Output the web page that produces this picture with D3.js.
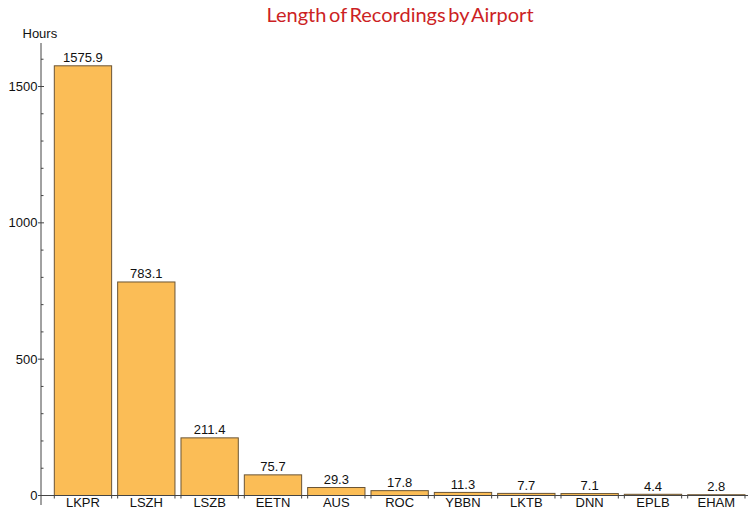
<!DOCTYPE html>
<html>
<head>
<meta charset="utf-8">
<script src="https://cdn.jsdelivr.net/npm/d3@7"></script>
<style>
  html, body { margin: 0; padding: 0; background: #fff; }
  svg { display: block; }
</style>
</head>
<body>
<svg id="chart" width="753" height="514"></svg>
<script>
const categories = ["LKPR", "LSZH", "LSZB", "EETN", "AUS", "ROC", "YBBN", "LKTB", "DNN", "EPLB", "EHAM"];
const hours = [1575.9, 783.1, 211.4, 75.7, 29.3, 17.8, 11.3, 7.7, 7.1, 4.4, 2.8];
const valueLabels = ["1575.9", "783.1", "211.4", "75.7", "29.3", "17.8", "11.3", "7.7", "7.1", "4.4", "2.8"];
const majorTicks = [0, 500, 1000, 1500];
const minorTicks = d3.range(0, 1700, 100).filter(v => v % 500 !== 0);
const titleText = "Length of Recordings by Airport";
const yLabel = "Hours";

const svg = d3.select("#chart");
const axisColor = "#444";
const font = "'Liberation Sans', Arial, Helvetica, sans-serif";

const x = d3.scaleBand().domain(categories).range([51.3, 748]).paddingInner(0.095).paddingOuter(0.0475);
const y = d3.scaleLinear().domain([0, 1500]).range([495.5, 86.5]);

const axisX = 41;

// Bars
svg.append("g").selectAll("rect").data(categories).join("rect")
  .attr("x", d => x(d))
  .attr("y", (d, i) => y(hours[i]))
  .attr("width", x.bandwidth())
  .attr("height", (d, i) => y(0) - y(hours[i]))
  .attr("fill", "#FBBD56")
  .attr("stroke", "#6b5535")
  .attr("stroke-width", 1);

// Value labels
svg.append("g").selectAll("text").data(categories).join("text")
  .attr("x", d => x(d) + x.bandwidth() / 2)
  .attr("y", (d, i) => y(hours[i]) - 3.5)
  .attr("text-anchor", "middle")
  .attr("font-family", font)
  .attr("font-size", 13)
  .attr("fill", "#111")
  .text((d, i) => valueLabels[i]);

// Y axis line
svg.append("line")
  .attr("x1", axisX).attr("x2", axisX)
  .attr("y1", 43).attr("y2", 505)
  .attr("stroke", axisColor).attr("stroke-width", 1);

// X axis line
svg.append("line")
  .attr("x1", axisX).attr("x2", 748)
  .attr("y1", y(0)).attr("y2", y(0))
  .attr("stroke", axisColor).attr("stroke-width", 1);

// Major y ticks + labels
const gy = svg.append("g");
gy.selectAll("line.major").data(majorTicks).join("line")
  .attr("class", "major")
  .attr("x1", axisX - 3).attr("x2", axisX + 3)
  .attr("y1", d => y(d)).attr("y2", d => y(d))
  .attr("stroke", axisColor).attr("stroke-width", 1);
gy.selectAll("line.minor").data(minorTicks).join("line")
  .attr("class", "minor")
  .attr("x1", axisX).attr("x2", axisX + 2.5)
  .attr("y1", d => y(d)).attr("y2", d => y(d))
  .attr("stroke", axisColor).attr("stroke-width", 1);
gy.selectAll("text").data(majorTicks).join("text")
  .attr("x", axisX - 3.5)
  .attr("y", d => y(d) + 4.5)
  .attr("text-anchor", "end")
  .attr("font-family", font)
  .attr("font-size", 13)
  .attr("fill", "#111")
  .text(d => d);

// X ticks at bar edges
const edges = [];
categories.forEach(c => { edges.push(x(c)); edges.push(x(c) + x.bandwidth()); });
svg.append("g").selectAll("line").data(edges).join("line")
  .attr("x1", d => d).attr("x2", d => d)
  .attr("y1", y(0)).attr("y2", y(0) + 3)
  .attr("stroke", axisColor).attr("stroke-width", 1);

// Category labels
svg.append("g").selectAll("text").data(categories).join("text")
  .attr("x", d => x(d) + x.bandwidth() / 2)
  .attr("y", 507)
  .attr("text-anchor", "middle")
  .attr("font-family", font)
  .attr("font-size", 13)
  .attr("fill", "#111")
  .text(d => d);

// Y label
svg.append("text")
  .attr("x", 22.5).attr("y", 37.5)
  .attr("font-family", font)
  .attr("font-size", 13)
  .attr("fill", "#111")
  .text(yLabel);

// Title
svg.append("text")
  .attr("x", 400).attr("y", 22)
  .attr("text-anchor", "middle")
  .attr("font-family", "Lato, 'Open Sans', sans-serif")
  .attr("font-size", 20)
  .attr("word-spacing", -2.5)
  .attr("fill", "#CC1F24")
  .text(titleText);
</script>
</body>
</html>
